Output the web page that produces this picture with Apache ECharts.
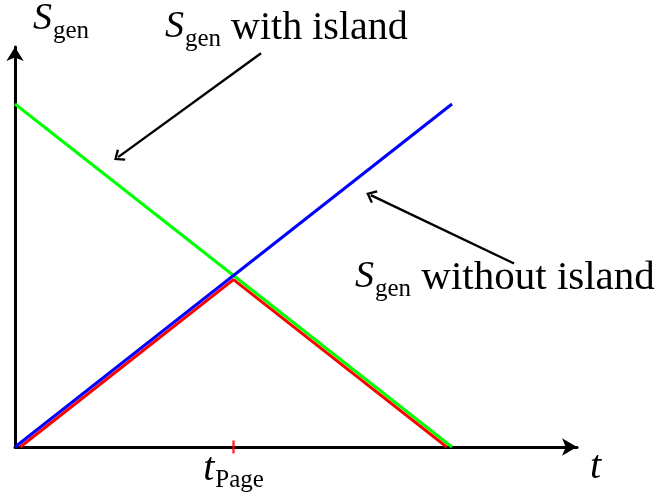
<!DOCTYPE html>
<html>
<head>
<meta charset="utf-8">
<script src="https://cdn.jsdelivr.net/npm/echarts@6/dist/echarts.min.js"></script>
<style>
  html, body { margin: 0; padding: 0; background: #fff; }
  #chart { width: 661px; height: 501px; }
</style>
</head>
<body>
<div id="chart"></div>
<script>
// Generalized entropy S_gen against time t: with and without the island, and the Page curve.
const xRange = [0, 12.86];
const yRange = [0, 11.66];
const pageTicks = [5];

// green: S_gen with island, falling to zero
const withIsland = [[0, 10], [10, 0]];
// blue: S_gen without island, growing linearly
const withoutIsland = [[0, 0], [10, 10]];
// red: the minimum of the two (Page curve), drawn just below them
const pageCurve = [[0.12, 0], [5, 4.88], [9.88, 0]];
// red mark on the time axis at the Page time
const pageMark = [[5, 0]];

// annotation arrows: [from, to]
const arrowWith = [[5.63, 11.48], [2.36, 8.45]];
const arrowWithout = [[11.42, 5.35], [8.14, 7.34]];

const serif = '"Liberation Serif", "Times New Roman", serif';
const richText = {
  s:   { fontFamily: serif, fontStyle: 'italic', fontSize: 38, verticalAlign: 'top', color: '#000' },
  t:   { fontFamily: serif, fontStyle: 'italic', fontSize: 40, verticalAlign: 'top', color: '#000' },
  sub: { fontFamily: serif, fontSize: 25, verticalAlign: 'top', padding: [19, 0, 0, 1], color: '#000' },
  w:   { fontFamily: serif, fontSize: 40, verticalAlign: 'top', color: '#000' },
  w2:  { fontFamily: serif, fontSize: 41, verticalAlign: 'top', color: '#000' }
};

// open V-shaped arrow head
const vHead = 'path://M7,0 L14,8.2 L12.3,9.8 L7,3.4 L1.7,9.8 L0,8.2 Z';

function arrowLine(pair) {
  return [
    { coord: pair[0], symbol: 'none' },
    { coord: pair[1], symbol: vHead, symbolSize: [14, 10] }
  ];
}

const chart = echarts.init(document.getElementById('chart'), null, { renderer: 'canvas' });
chart.setOption({
  animation: false,
  backgroundColor: '#fff',
  grid: { left: 15, right: 84, top: 46, bottom: 54, containLabel: false },
  xAxis: {
    type: 'value',
    min: xRange[0],
    max: xRange[1],
    name: '{t|t}',
    nameLocation: 'end',
    nameGap: 13,
    nameTextStyle: { verticalAlign: 'top', rich: richText },
    axisLine: {
      show: true,
      symbol: ['none', 'arrow'],
      symbolSize: [13, 15],
      lineStyle: { color: '#000', width: 3 }
    },
    axisTick: { show: false },
    splitLine: { show: false },
    axisLabel: {
      show: true,
      customValues: pageTicks,
      margin: 2,
      formatter: function () { return '{t|t}{sub|Page}'; },
      rich: richText
    }
  },
  yAxis: {
    type: 'value',
    min: yRange[0],
    max: yRange[1],
    name: '{s|S}{sub|gen}',
    nameLocation: 'end',
    nameGap: 47,
    nameTextStyle: { align: 'left', verticalAlign: 'top', padding: [0, 0, 0, 18], rich: richText },
    axisLine: {
      show: true,
      symbol: ['none', 'arrow'],
      symbolSize: [13, 14],
      lineStyle: { color: '#000', width: 3 }
    },
    axisTick: { show: false },
    splitLine: { show: false },
    axisLabel: { show: false }
  },
  series: [
    {
      name: 'Page curve',
      type: 'line',
      data: pageCurve,
      showSymbol: false,
      clip: false,
      lineStyle: { color: '#ff0000', width: 3 },
      z: 2
    },
    {
      name: 'with island',
      type: 'line',
      data: withIsland,
      showSymbol: false,
      clip: false,
      lineStyle: { color: '#00ff00', width: 3 },
      z: 3
    },
    {
      name: 'without island',
      type: 'line',
      data: withoutIsland,
      showSymbol: false,
      clip: false,
      lineStyle: { color: '#0000ff', width: 3 },
      z: 4
    },
    {
      name: 'Page time',
      type: 'scatter',
      data: pageMark,
      symbol: 'rect',
      symbolSize: [2.5, 13],
      clip: false,
      itemStyle: { color: '#ff0000' },
      z: 5
    },
    {
      name: 'annotations',
      type: 'line',
      data: [],
      silent: true,
      markLine: {
        silent: true,
        animation: false,
        symbol: ['none', vHead],
        label: { show: false },
        emphasis: { disabled: true },
        lineStyle: { color: '#000', width: 2.4, type: 'solid' },
        data: [arrowLine(arrowWith), arrowLine(arrowWithout)]
      }
    }
  ],
  graphic: [
    {
      type: 'text',
      left: 165,
      top: 8,
      style: { text: '{s|S}{sub|gen}{w| with island}', rich: richText }
    },
    {
      type: 'text',
      left: 355,
      top: 258,
      style: { text: '{s|S}{sub|gen}{w2| without island}', rich: richText }
    }
  ]
});
</script>
</body>
</html>
